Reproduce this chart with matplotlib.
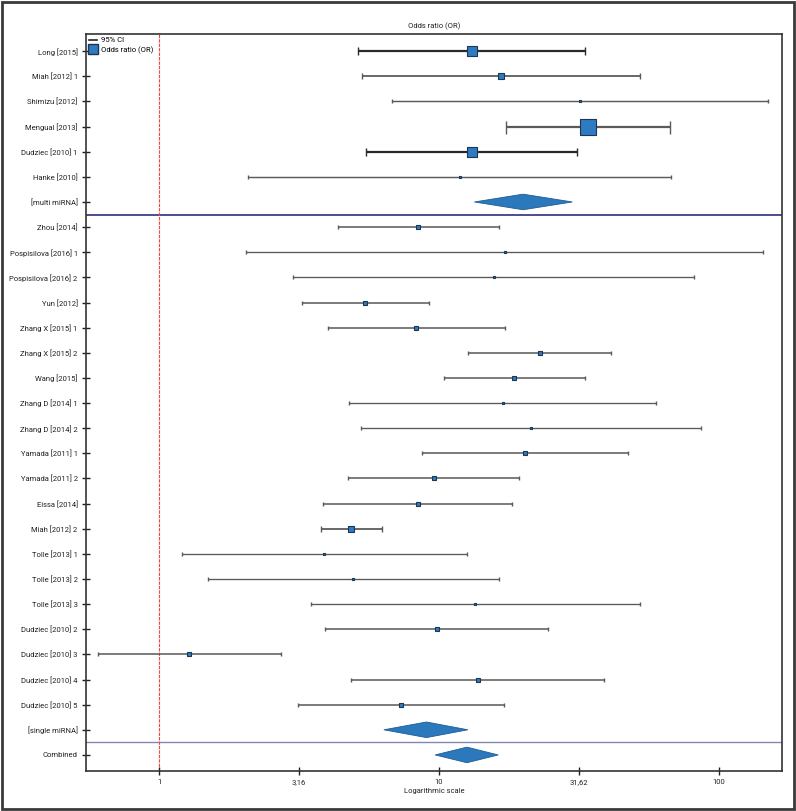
import numpy as np
import matplotlib
matplotlib.use("Agg")
import matplotlib.pyplot as plt
from matplotlib import font_manager
from matplotlib.font_manager import FontProperties
from matplotlib.textpath import TextPath
from matplotlib.lines import Line2D
from matplotlib.patches import Polygon, Rectangle

# pick the narrowest installed sans family for the long study labels
installed = {f.name for f in font_manager.fontManager.ttflist}
candidates = [f for f in ['Liberation Sans Narrow', 'Lato', 'Roboto', 'Liberation Sans',
                          'Noto Sans', 'Open Sans'] if f in installed]
sample = "Pospisilova [2016] 1"


def ratio(f):
    ext = TextPath((0, 0), sample, size=10, prop=FontProperties(family=f)).get_extents()
    return ext.width / 10.0


fam = min(candidates, key=ratio)
plt.rcParams['font.family'] = [fam, 'DejaVu Sans']
# size so the longest label is ~66 px wide (at 100 dpi)
fs = min(7.0, 66 * 0.72 / ratio(fam))

# studies with multi miRNA panels
multi_names = ["Long [2015]", "Miah [2012] 1", "Shimizu [2012]", "Mengual [2013]",
               "Dudziec [2010] 1", "Hanke [2010]"]
multi_or = [13.1, 16.7, 31.9, 34.1, 13.1, 11.9]
multi_lo = [5.15, 5.31, 6.8, 17.4, 5.5, 2.08]
multi_hi = [33.2, 52.5, 150.5, 66.8, 31.2, 67.7]
multi_w = [6.25, 2.25, 0.56, 16.0, 6.25, 0.56]
multi_pooled = (13.4, 20.0, 30.0)

# studies with single miRNA
single_names = ["Zhou [2014]", "Pospisilova [2016] 1", "Pospisilova [2016] 2", "Yun [2012]",
                "Zhang X [2015] 1", "Zhang X [2015] 2", "Wang [2015]", "Zhang D [2014] 1",
                "Zhang D [2014] 2", "Yamada [2011] 1", "Yamada [2011] 2", "Eissa [2014]",
                "Miah [2012] 2", "Tolle [2013] 1", "Tolle [2013] 2", "Tolle [2013] 3",
                "Dudziec [2010] 2", "Dudziec [2010] 3", "Dudziec [2010] 4", "Dudziec [2010] 5"]
single_or = [8.44, 17.2, 15.7, 5.45, 8.32, 22.9, 18.6, 16.9, 21.4, 20.3, 9.6, 8.39,
             4.85, 3.89, 4.94, 13.5, 9.81, 1.28, 13.8, 7.31]
single_lo = [4.37, 2.05, 3.02, 3.23, 4.02, 12.7, 10.4, 4.78, 5.29, 8.68, 4.74, 3.86,
             3.79, 1.21, 1.49, 3.48, 3.92, 0.607, 4.85, 3.14]
single_hi = [16.4, 143.6, 81.6, 9.21, 17.3, 41.4, 33.2, 59.6, 86.7, 47.6, 19.4, 18.2,
             6.24, 12.6, 16.4, 52.4, 24.6, 2.72, 38.9, 17.1]
single_w = [1.0, 0.25, 0.25, 1.0, 1.0, 1.0, 1.0, 0.25, 0.25, 1.0, 1.0, 1.0,
            2.25, 0.25, 0.25, 0.25, 1.0, 1.0, 1.0, 1.0]
single_pooled = (6.36, 9.03, 12.7)

combined_pooled = (9.70, 12.6, 16.3)

xticks = [1, 3.1623, 10, 31.623, 100]
xtick_labels = ["1", "3,16", "10", "31,62", "100"]

labels = multi_names + ["[multi miRNA]"] + single_names + ["[single miRNA]", "Combined"]
n_rows = len(labels)

fig = plt.figure(figsize=(7.96, 8.11), dpi=100)
ax = fig.add_axes([0.108, 0.0493, 0.874, 0.9087])
ax.set_xscale('log')

blue = '#2e7bc4'
edge = '#1c3550'


def draw_study(y, o, lo, hi, w):
    side = 4.0 * np.sqrt(w)  # px
    lw = min(1.6, 0.8 + 0.08 * side)
    cap = max(3.5, 0.75 * side + 1) * 0.72 / 2
    col = '#2a2a2a' if 8 <= side < 12 else '#5a5a5a'
    ax.errorbar([o], [y], xerr=[[o - lo], [hi - o]], fmt='none', ecolor=col,
                elinewidth=lw, capsize=cap, capthick=1.0, zorder=2)
    ax.plot([o], [y], marker='s', ms=max(side, 2.5) * 0.72, mfc=blue, mec=edge,
            mew=0.8, zorder=3)


def draw_diamond(y, lo, mid, hi, h=0.31):
    ax.add_patch(Polygon([(lo, y), (mid, y - h), (hi, y), (mid, y + h)],
                         closed=True, fc='#2b78bd', ec='#1f5d94', lw=0.6, zorder=3))


row = 0
for o, lo, hi, w in zip(multi_or, multi_lo, multi_hi, multi_w):
    draw_study(row, o, lo, hi, w)
    row += 1
draw_diamond(row, *multi_pooled)
row += 1
for o, lo, hi, w in zip(single_or, single_lo, single_hi, single_w):
    draw_study(row, o, lo, hi, w)
    row += 1
draw_diamond(row, *single_pooled)
row += 1
draw_diamond(row, *combined_pooled)

ax.axhline(len(multi_names) + 0.5, color='#2e2e7e', lw=1.2, zorder=1)
ax.axhline(n_rows - 1.5, color='#8585b5', lw=1.0, zorder=1)
ax.axvline(1, color='#ff4040', lw=0.8, ls=(0, (3, 1)), zorder=1)

ax.set_xlim(0.548, 168)
ax.set_ylim(n_rows - 1 + 0.64, -0.68)
ax.set_yticks(range(n_rows))
ax.set_yticklabels(labels)
ax.set_xticks(xticks)
ax.set_xticklabels(xtick_labels)
ax.xaxis.set_minor_locator(matplotlib.ticker.NullLocator())
ax.tick_params(axis='both', direction='inout', length=6, width=1, labelsize=fs,
               colors='#222222', pad=3)
for s in ax.spines.values():
    s.set_color('#333333')
    s.set_linewidth(1.2)

ax.set_title("Odds ratio (OR)", fontsize=fs, pad=4, color='#222222')
ax.set_xlabel("Logarithmic scale", fontsize=fs, labelpad=2, color='#222222')

handles = [Line2D([0], [0], color='#222222', lw=1.2),
           Line2D([0], [0], marker='s', ls='none', ms=7.5, mfc=blue, mec=edge, mew=1)]
ax.legend(handles, ["95% CI", "Odds ratio (OR)"], loc='upper left', frameon=False,
          fontsize=fs, handlelength=1.1, handletextpad=0.5, labelspacing=0.35,
          borderaxespad=0.2, borderpad=0.2)

fig.add_artist(Rectangle((0.003, 0.003), 0.994, 0.994, transform=fig.transFigure,
                         fill=False, ec='#3a3a3a', lw=2))

fig.savefig("out.png", dpi=100)
